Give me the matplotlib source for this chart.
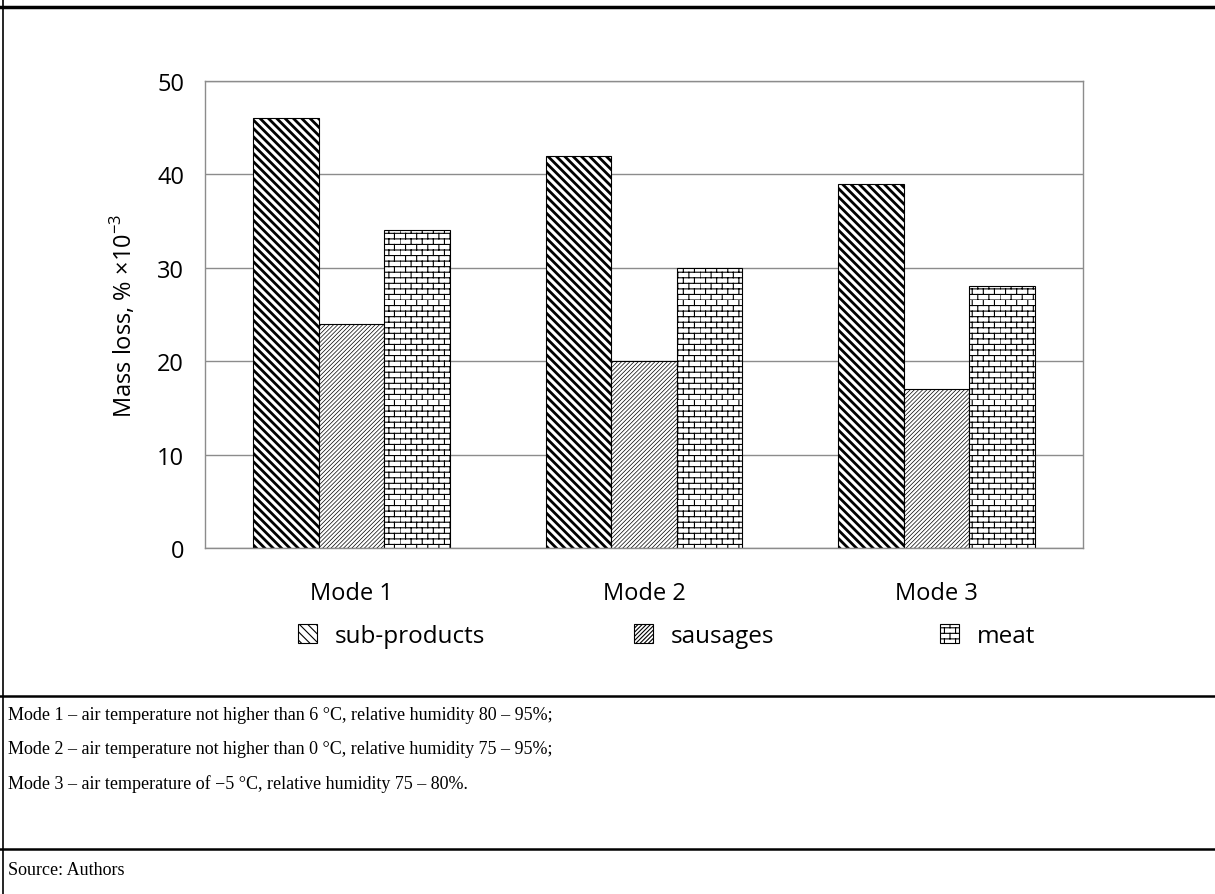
import warnings
import numpy as np
import matplotlib
matplotlib.use("Agg")
import matplotlib.pyplot as plt
from matplotlib.lines import Line2D
from matplotlib.path import Path
from matplotlib import hatch as mhatch

warnings.filterwarnings("ignore")

modes = ["Mode 1", "Mode 2", "Mode 3"]
series = ["sub-products", "sausages", "meat"]
sub_products = [46, 42, 39]
sausages = [24, 20, 17]
meat = [34, 30, 28]
notes = ["Mode 1 \u2013 air temperature not higher than 6 \u00b0C, relative humidity 80 \u2013 95%;",
         "Mode 2 \u2013 air temperature not higher than 0 \u00b0C, relative humidity 75 \u2013 95%;",
         "Mode 3 \u2013 air temperature of \u22125 \u00b0C, relative humidity 75 \u2013 80%."]
source = "Source: Authors"


# brick hatch, 'b' in the hatch string
class BrickHatch(mhatch.HatchPatternBase):
    def __init__(self, hatch, density):
        n = int(hatch.count('b') * density)
        if n % 2:
            n += 1
        self.n = n
        self.num_lines = n + n * (n // 2)
        self.num_vertices = self.num_lines * 2

    def set_vertices_and_codes(self, vertices, codes):
        n = self.n
        if n == 0:
            return
        i = 0
        for k in range(n):
            y = k / n
            vertices[i] = (0.0, y); vertices[i + 1] = (1.0, y)
            i += 2
        for k in range(n):
            off = (k % 2) / n
            for j in range(n // 2):
                xx = j * 2.0 / n + off
                vertices[i] = (xx, k / n); vertices[i + 1] = (xx, (k + 1) / n)
                i += 2
        codes[0::2] = Path.MOVETO
        codes[1::2] = Path.LINETO


mhatch._hatch_types.append(BrickHatch)

plt.rcParams['font.family'] = ['Open Sans', 'DejaVu Sans']
plt.rcParams['mathtext.fontset'] = 'custom'
plt.rcParams['mathtext.rm'] = 'Open Sans'

fig = plt.figure(figsize=(12.15, 8.95), dpi=100)
ax = fig.add_axes([205/1215, 1-549/895, (1083-205)/1215, (549-82)/895])

x = np.arange(len(modes))
w = 0.224
styles = [('\\' * 4, 2.0), ('/' * 8, 0.5), ('bbb', 0.8)]
handles = []
for i, (vals, lab) in enumerate(zip([sub_products, sausages, meat], series)):
    h, lw = styles[i]
    plt.rcParams['hatch.linewidth'] = lw
    b = ax.bar(x + (i - 1) * w, vals, w, color='white', edgecolor='black',
               hatch=h, linewidth=0.8, label=lab, zorder=2)
    for p in b:
        if hasattr(p, 'set_hatch_linewidth'):
            p.set_hatch_linewidth(lw)
    handles.append(b)

ax.set_xlim(-0.5, 2.5)
ax.set_ylim(0, 50)
ax.set_yticks([0, 10, 20, 30, 40, 50])
ax.yaxis.grid(True, color='#8c8c8c', linewidth=1.0, zorder=0)
ax.set_axisbelow(True)
for s in ax.spines.values():
    s.set_color('#8c8c8c')
    s.set_linewidth(1.0)
ax.tick_params(length=0, labelsize=17, colors='black')
ax.tick_params(axis='y', pad=15)
ax.tick_params(axis='x', pad=24)
ax.set_xticks(x)
ax.set_xticklabels(modes)
ax.set_ylabel(r'Mass loss, % ×10$^{\mathregular{-3}}$', fontsize=17, labelpad=14)

# legend entries placed one by one
leg_x = [298/1215, 634/1215, 940/1215]
for hnd, lab, lx in zip(handles, series, leg_x):
    lg = fig.legend([hnd], [lab], loc='center left', bbox_to_anchor=(lx, 1-637/895),
                    frameon=False, fontsize=17.5, handlelength=0.8, handleheight=0.8,
                    handletextpad=0.7, borderpad=0, borderaxespad=0)

# table borders
lk = dict(color='black', transform=fig.transFigure)
fig.add_artist(Line2D([0, 1], [1-8/895, 1-8/895], linewidth=2.5, **lk))
fig.add_artist(Line2D([3/1215, 3/1215], [0, 1], linewidth=1.2, **lk))
fig.add_artist(Line2D([0, 1], [1-697/895, 1-697/895], linewidth=1.8, **lk))
fig.add_artist(Line2D([0, 1], [1-850/895, 1-850/895], linewidth=1.8, **lk))

for k, t in enumerate(notes):
    fig.text(8/1215, 1-(716 + 34*k)/895, t, family='Liberation Serif', fontsize=13,
             va='center', ha='left')
fig.text(8/1215, 1-871/895, source, family='Liberation Serif', fontsize=13,
         va='center', ha='left')

fig.savefig('out.png', dpi=100)
